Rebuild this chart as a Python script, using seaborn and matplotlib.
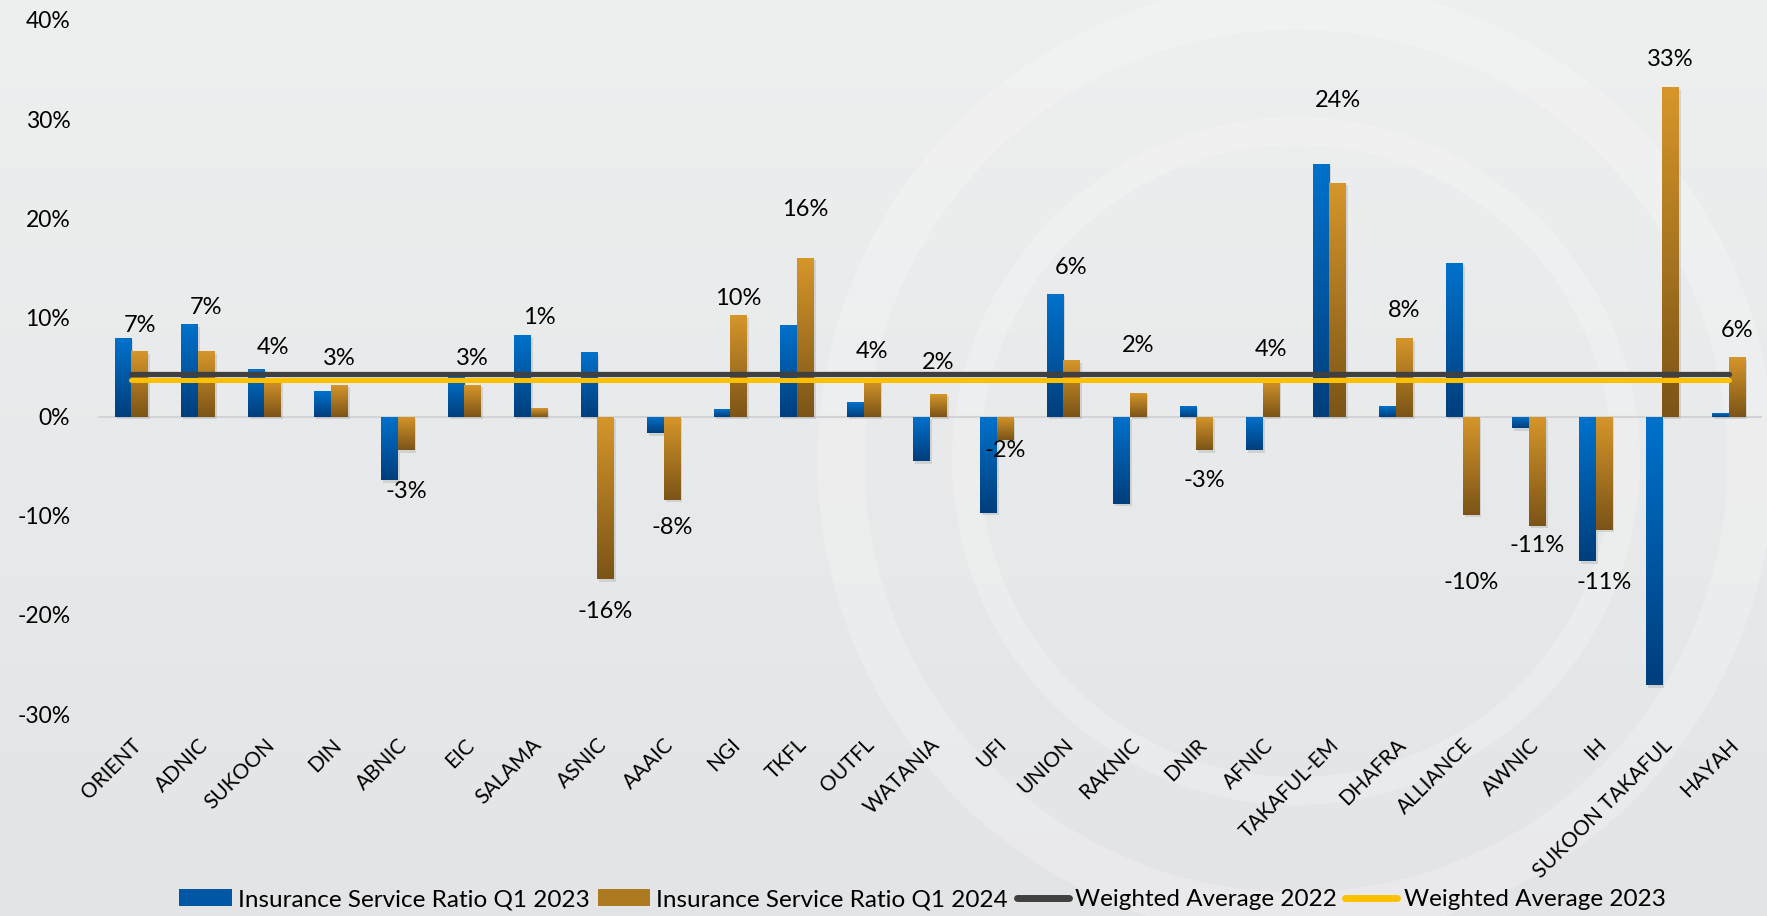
import numpy as np
import pandas as pd
import seaborn as sns
import matplotlib.pyplot as plt
from matplotlib.colors import LinearSegmentedColormap
from matplotlib.patches import Patch, Circle
from matplotlib.lines import Line2D

companies = ['ORIENT', 'ADNIC', 'SUKOON', 'DIN', 'ABNIC', 'EIC', 'SALAMA', 'ASNIC',
             'AAAIC', 'NGI', 'TKFL', 'OUTFL', 'WATANIA', 'UFI', 'UNION', 'RAKNIC',
             'DNIR', 'AFNIC', 'TAKAFUL-EM', 'DHAFRA', 'ALLIANCE', 'AWNIC', 'IH',
             'SUKOON TAKAFUL', 'HAYAH']
ratio_q1_2023 = [7.9, 9.3, 4.8, 2.6, -6.4, 4.0, 8.2, 6.5, -1.7, 0.8, 9.2, 1.5, -4.5,
                 -9.7, 12.4, -8.8, 1.1, -3.4, 25.5, 1.1, 15.5, -1.2, -14.6, -27.1, 0.4]
ratio_q1_2024 = [6.6, 6.6, 3.8, 3.2, -3.4, 3.2, 0.9, -16.4, -8.4, 10.2, 16.0, 3.7, 2.3,
                 -2.4, 5.7, 2.4, -3.4, 3.8, 23.6, 7.9, -9.9, -11.0, -11.4, 33.2, 6.0]
weighted_avg_2022 = 4.3
weighted_avg_2023 = 3.7

series_names = ['Insurance Service Ratio Q1 2023', 'Insurance Service Ratio Q1 2024']

# data labels were nudged by hand in the original chart (offset from bar end, in % points)
label_offsets = [2.6, 4.4, 3.2, 2.7, -4.2, 2.7, 9.1, -3.3, -2.8, 1.7, 4.9, 2.9, 3.2,
                 -1.0, 9.3, 4.8, -3.0, 3.0, 8.3, 2.75, -6.8, -2.0, -5.3, 2.8, 2.7]

df = pd.DataFrame({
    'Company': companies * 2,
    'Ratio': ratio_q1_2023 + ratio_q1_2024,
    'Series': [series_names[0]] * len(companies) + [series_names[1]] * len(companies),
})

plt.rcParams['font.family'] = ['Lato', 'DejaVu Sans']

bg = '#e8e9eb'
fig = plt.figure(figsize=(17.67, 9.16), dpi=100, facecolor=bg)

# slide-style background: soft vertical gradient plus faint watermark rings
bg_ax = fig.add_axes([0, 0, 1, 1], zorder=-20)
bg_cmap = LinearSegmentedColormap.from_list('bg', ['#e3e4e6', '#eeefef'])
bg_ax.imshow(np.linspace(0, 1, 256).reshape(-1, 1), cmap=bg_cmap, origin='lower',
             aspect='auto', extent=[0, 1, 0, 1])
for r, lw in [(455, 34), (330, 20)]:
    bg_ax.add_patch(Circle((1296, 455), r, transform=None, fill=False,
                           edgecolor='white', alpha=0.22, lw=lw))
bg_ax.axis('off')

ax = fig.add_axes([0.0555, 0.2205, 0.9417, 0.7577])
ax.set_facecolor('none')

blue = ('#0072cc', '#003e7c')    # top, bottom
orange = ('#d6962a', '#7b5417')

sns.barplot(data=df, x='Company', y='Ratio', hue='Series', order=companies,
            hue_order=series_names, palette=[blue[0], orange[0]], width=0.5,
            gap=0, legend=False, ax=ax, zorder=2)

# gradient fill for each bar (light top -> dark bottom) with a soft shadow
grad = np.linspace(0, 1, 256).reshape(-1, 1)
n = len(companies)
for i, bar in enumerate(ax.patches[:2 * n]):
    top, bottom = blue if i < n else orange
    cmap = LinearSegmentedColormap.from_list('g', [bottom, top])
    x, w = bar.get_x(), bar.get_width()
    y0 = min(bar.get_y(), bar.get_y() + bar.get_height())
    y1 = max(bar.get_y(), bar.get_y() + bar.get_height())
    ax.add_patch(plt.Rectangle((x + 0.03, y0 - 0.25), w, y1 - y0, facecolor='#9a9a9a',
                               alpha=0.3, edgecolor='none', zorder=1))
    im = ax.imshow(grad, cmap=cmap, extent=[x, x + w, y0, y1], origin='lower',
                   aspect='auto', zorder=2)
    im.set_clip_path(bar)
    bar.set_facecolor('none')
    bar.set_edgecolor('none')

# weighted average lines
xs = np.arange(n)
ax.plot(xs, [weighted_avg_2022] * n, color='#404040', lw=3.8,
        solid_capstyle='round', zorder=4)
ax.plot(xs, [weighted_avg_2023] * n, color='#ffc000', lw=3.6,
        solid_capstyle='round', zorder=4)

ax.axhline(0, color='#d2d3d6', lw=1.5, zorder=0)

# data labels for Q1 2024
for i, (v, off) in enumerate(zip(ratio_q1_2024, label_offsets)):
    ax.text(i + 0.125, v + off, f'{v:.0f}%', ha='center', va='center',
            fontsize=17, color='black', zorder=5)

ax.set_xlim(-0.5, n - 0.5)
ax.set_ylim(-30, 40)
ax.set_yticks(range(-30, 41, 10))
ax.set_yticklabels([f'{t}%' for t in range(-30, 41, 10)], fontsize=16.5)
ax.set_xticks(xs)
ax.set_xticklabels(companies, rotation=45, ha='right', rotation_mode='anchor',
                   fontsize=15)
ax.tick_params(axis='both', length=0)
ax.tick_params(axis='x', pad=15)
ax.tick_params(axis='y', pad=20)
ax.set_xlabel('')
ax.set_ylabel('')
for s in ax.spines.values():
    s.set_visible(False)

handles = [
    Patch(facecolor='#0058a4', edgecolor='none'),
    Patch(facecolor='#ad7a22', edgecolor='none'),
    Line2D([0], [0], color='#404040', lw=5, solid_capstyle='round'),
    Line2D([0], [0], color='#ffc000', lw=5, solid_capstyle='round'),
]
labels = series_names + ['Weighted Average 2022', 'Weighted Average 2023']
fig.legend(handles, labels, loc='center', bbox_to_anchor=(0.522, 0.018), ncol=4,
           frameon=False, fontsize=17.5, handlelength=2.15, handleheight=0.65,
           handletextpad=0.25, columnspacing=0.35)

fig.savefig('out.png', dpi=100, facecolor=bg)
